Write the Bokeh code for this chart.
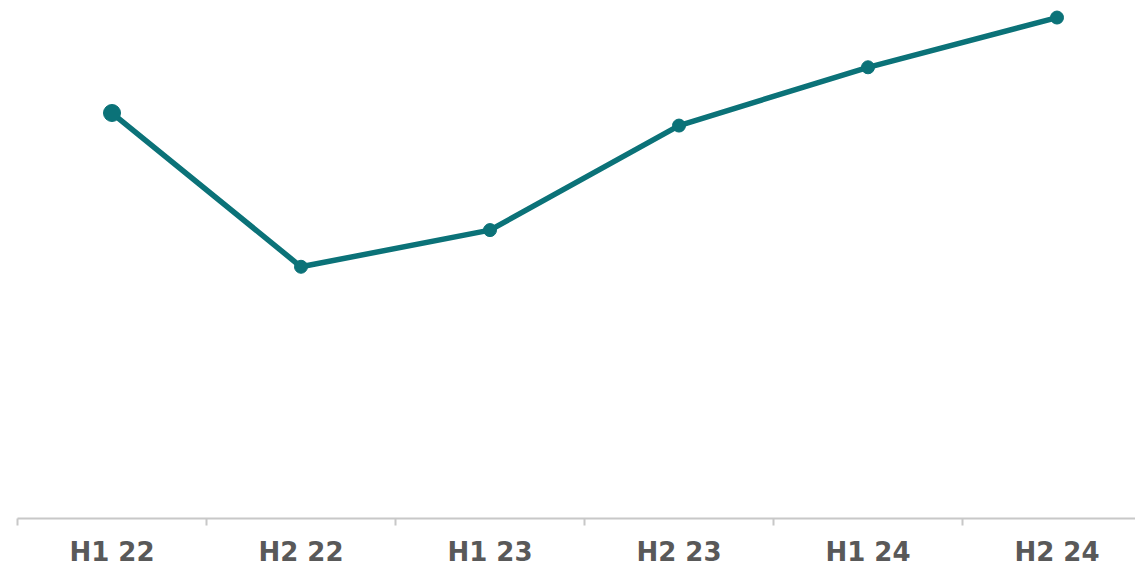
from bokeh.plotting import figure
from bokeh.models import FixedTicker, Range1d
from bokeh.embed import file_html
from bokeh.resources import INLINE

categories = ["H1 22", "H2 22", "H1 23", "H2 23", "H1 24", "H2 24"]
values = [80.7, 50.1, 57.4, 78.2, 89.8, 99.7]

TEAL = "#0b7278"
xs = list(range(len(categories)))

p = figure(width=1135, height=569, output_backend="svg", toolbar_location=None,
           x_range=Range1d(-0.5, -0.5 + 1118 / 189), y_range=Range1d(0, 101.5),
           min_border_left=17, min_border_right=0, min_border_top=8, min_border_bottom=48)
p.outline_line_color = None
p.xgrid.visible = False
p.ygrid.visible = False
p.yaxis.visible = False
p.background_fill_color = "white"
p.border_fill_color = "white"

p.line(xs, values, line_color=TEAL, line_width=5.5)
p.scatter(xs, values, size=13, fill_color=TEAL, line_color=TEAL)
p.scatter(xs[:1], values[:1], size=17, fill_color=TEAL, line_color=TEAL)

ax = p.xaxis[0]
ax.ticker = FixedTicker(ticks=xs, minor_ticks=[i - 0.5 for i in range(len(categories) + 1)])
ax.major_label_overrides = {i: c for i, c in enumerate(categories)}
ax.major_tick_line_color = None
ax.minor_tick_line_color = "#c8c8c8"
ax.minor_tick_line_width = 2
ax.minor_tick_in = 0
ax.minor_tick_out = 7
ax.axis_line_color = "#c8c8c8"
ax.axis_line_width = 2
ax.major_label_text_font = "DejaVu Sans"
ax.major_label_text_font_style = "bold"
ax.major_label_text_font_size = "26px"
ax.major_label_text_color = "#595959"
ax.major_label_standoff = 11

open("out.html", "w").write(file_html(p, INLINE))
